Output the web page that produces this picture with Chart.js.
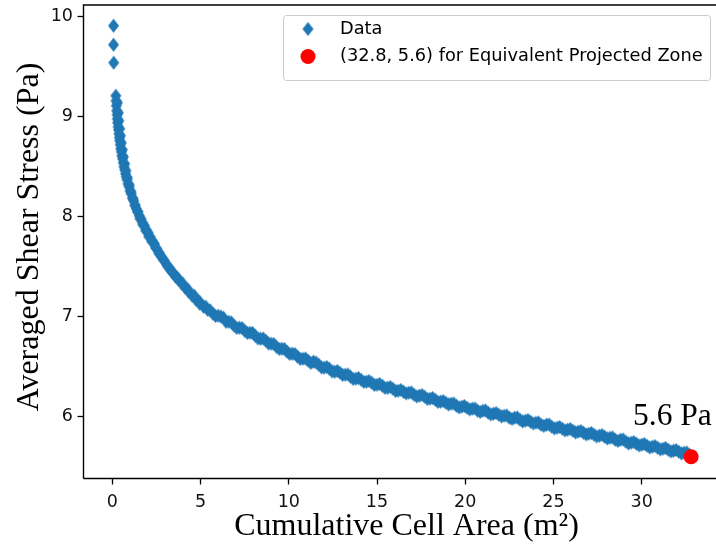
<!DOCTYPE html>
<html><head><meta charset="utf-8">
<script src="https://cdn.jsdelivr.net/npm/chart.js@4/dist/chart.umd.min.js"></script>
<style>html,body{margin:0;padding:0;background:#fff;overflow:hidden}#wrap{width:716px;height:550px;position:relative}</style>
</head><body><div id="wrap"><canvas id="c"></canvas></div>
<script>
// ---- data ----
const areaX = [0.07,0.07,0.08,
0.20,0.21,0.23,0.25,0.27,0.28,0.30,0.33,0.35,0.37,0.40,0.42,0.45,0.48,0.51,0.54,0.58,0.62,0.66,0.70,0.75,0.79,0.84,0.89,0.95,1.01,1.07,1.14,1.21,1.28,1.36,1.45,1.53,1.62,1.72,1.82,1.92,2.03,2.14,2.26,2.39,
2.52,2.65,2.79,2.94,3.09,3.25,3.41,3.58,3.76,3.94,4.13,4.33,4.53,4.74,4.95,5.17,
5.40,5.70,6.00,6.30,6.60,6.90,7.20,7.50,7.80,8.10,8.40,8.70,9.00,9.30,9.60,9.90,10.20,10.50,10.80,11.10,11.40,11.70,12.00,12.30,12.60,12.90,13.20,13.50,13.80,14.10,14.40,14.70,15.00,15.30,15.60,15.90,16.20,16.50,16.80,17.10,17.40,17.70,18.00,18.30,18.60,18.90,19.20,19.50,19.80,20.10,20.40,20.70,21.00,21.30,21.60,21.90,22.20,22.50,22.80,23.10,23.40,23.70,24.00,24.30,24.60,24.90,25.20,25.50,25.80,26.10,26.40,26.70,27.00,27.30,27.60,27.90,28.20,28.50,28.80,29.10,29.40,29.70,30.00,30.30,30.60,30.90,31.20,31.50,31.80,32.10,32.40,32.70,
0.29,0.34,0.37,0.42,0.46,0.51,0.57,0.63,0.70,0.77,0.85,0.95,1.05,1.17,1.29,1.43,1.57,1.73,1.90,2.07,2.25,2.45,2.65,2.90,3.15,3.40,3.70,4.00,4.30,4.65,4.95,5.30,
5.55,5.85,6.15,6.45,6.75,7.05,7.35,7.65,7.95,8.25,8.55,8.85,9.15,9.45,9.75,10.05,10.35,10.65,10.95,11.25,11.55,11.85,12.15,12.45,12.75,13.05,13.35,13.65,13.95,14.25,14.55,14.85,15.15,15.45,15.75,16.05,16.35,16.65,16.95,17.25,17.55,17.85,18.15,18.45,18.75,19.05,19.35,19.65,19.95,20.25,20.55,20.85,21.15,21.45,21.75,22.05,22.35,22.65,22.95,23.25,23.55,23.85,24.15,24.45,24.75,25.05,25.35,25.65,25.95,26.25,26.55,26.85,27.15,27.45,27.75,28.05,28.35,28.65,28.95,29.25,29.55,29.85,30.15,30.45,30.75,31.05,31.35,31.65,31.95,32.25,32.55];
const stressY = [9.91,9.72,9.54,
9.21,9.16,9.11,9.06,9.02,8.98,8.94,8.90,8.87,8.83,8.79,8.76,8.72,8.68,8.65,8.61,8.58,8.54,8.50,8.47,8.43,8.40,8.37,8.33,8.30,8.26,8.23,8.19,8.16,8.12,8.08,8.05,8.01,7.98,7.94,7.91,7.87,7.84,7.80,7.76,7.73,
7.68,7.64,7.60,7.56,7.52,7.48,7.44,7.40,7.37,7.33,7.29,7.25,7.21,7.17,7.13,7.10,
7.07,7.03,7.01,6.99,6.95,6.91,6.89,6.86,6.84,6.81,6.78,6.76,6.73,6.70,6.68,6.65,6.63,6.60,6.58,6.56,6.55,6.52,6.49,6.48,6.45,6.44,6.42,6.40,6.38,6.37,6.35,6.34,6.32,6.31,6.29,6.28,6.26,6.25,6.24,6.22,6.21,6.20,6.18,6.17,6.15,6.14,6.13,6.11,6.10,6.09,6.08,6.06,6.06,6.04,6.03,6.02,6.01,5.99,5.99,5.97,5.96,5.95,5.94,5.92,5.92,5.90,5.89,5.88,5.87,5.86,5.85,5.84,5.83,5.82,5.81,5.80,5.79,5.77,5.77,5.75,5.74,5.73,5.72,5.71,5.70,5.69,5.68,5.67,5.66,5.65,5.64,5.62,
9.14,9.04,8.96,8.88,8.81,8.74,8.67,8.60,8.53,8.46,8.39,8.32,8.25,8.18,8.11,8.05,7.98,7.92,7.86,7.80,7.75,7.69,7.63,7.57,7.50,7.45,7.39,7.33,7.27,7.21,7.15,7.10,
7.062,7.008,7.002,6.948,6.942,6.888,6.887,6.838,6.837,6.783,6.782,6.733,6.727,6.678,6.677,6.628,6.627,6.578,6.582,6.538,6.542,6.493,6.497,6.453,6.457,6.418,6.422,6.378,6.387,6.348,6.357,6.318,6.327,6.288,6.297,6.258,6.267,6.233,6.242,6.203,6.217,6.178,6.187,6.148,6.157,6.123,6.132,6.093,6.107,6.073,6.082,6.048,6.062,6.023,6.037,6.003,6.012,5.978,5.992,5.953,5.967,5.933,5.942,5.908,5.922,5.883,5.897,5.863,5.877,5.843,5.857,5.823,5.837,5.803,5.817,5.783,5.792,5.758,5.772,5.733,5.747,5.713,5.727,5.693,5.707,5.673,5.687,5.653,5.667,5.633,5.642];
const markX = [32.8];
const markY = [5.6];
const xTicks = [0,5,10,15,20,25,30];
const yTicks = [6,7,8,9,10];
const seriesLabels = ['Data','(32.8, 5.6) for Equivalent Projected Zone'];
const xTitle = 'Cumulative Cell Area (m\u00B2)';
const yTitle = 'Averaged Shear Stress (Pa)';
const noteText = '5.6 Pa';
const noteAt = [31.74, 5.917];

// ---- styling ----
const BLUE = '#1f77b4', RED = '#ff0000';
function makeDiamond(w,h,color){
  const c=document.createElement('canvas');c.width=w+2;c.height=h+2;
  const g=c.getContext('2d');g.fillStyle=color;g.beginPath();
  g.moveTo((w+2)/2,1);g.lineTo(w+1,(h+2)/2);g.lineTo((w+2)/2,h+1);g.lineTo(1,(h+2)/2);g.closePath();g.fill();
  return c;
}
const diamond = makeDiamond(11,14,BLUE);

const bg = {id:'bg',beforeDraw(ch){const c=ch.ctx;c.save();c.fillStyle='#fff';c.fillRect(0,0,ch.width,ch.height);c.restore();}};
const deco = {id:'deco',afterDraw(ch){
  const c=ch.ctx, a=ch.chartArea, xs=ch.scales.x, ys=ch.scales.y;
  c.save();
  // frame (right spine falls outside the picture, as in the reference)
  c.strokeStyle='#000';c.lineWidth=1.4;c.beginPath();
  c.moveTo(a.left,a.bottom);c.lineTo(a.left,a.top);c.lineTo(a.right+5,a.top);
  c.moveTo(a.left,a.bottom);c.lineTo(a.right+5,a.bottom);c.stroke();
  // axis titles
  c.fillStyle='#000';c.font='32px "Liberation Serif"';c.textAlign='center';c.textBaseline='middle';
  c.fillText(xTitle, 406.5, 527);
  c.save();c.translate(30,237);c.rotate(-Math.PI/2);c.fillText(yTitle,0,0);c.restore();
  // annotation
  c.font='31.5px "Liberation Serif"';c.textBaseline='alphabetic';
  c.fillText(noteText, xs.getPixelForValue(noteAt[0]), ys.getPixelForValue(noteAt[1]));
  // legend
  const L=283,T=15,W=427,H=65;
  c.fillStyle='rgba(255,255,255,0.8)';c.strokeStyle='#cccccc';c.lineWidth=1;
  c.beginPath();c.roundRect(L+0.5,T+0.5,W,H,3);c.fill();c.stroke();
  c.drawImage(diamond,308-diamond.width/2,29-diamond.height/2);
  c.fillStyle=RED;c.beginPath();c.arc(308,56.5,7.5,0,Math.PI*2);c.fill();
  c.fillStyle='#000';c.font='17.8px "DejaVu Sans"';c.textAlign='left';c.textBaseline='middle';
  c.fillText(seriesLabels[0],340,29);
  c.fillText(seriesLabels[1],340,56.5);
  c.restore();
}};

function zeroPad(s){s.paddingLeft=0;s.paddingRight=0;s.paddingTop=0;s.paddingBottom=0;}

new Chart(document.getElementById('c'),{
  type:'scatter',
  data:{datasets:[
    {label:seriesLabels[1],data:markX.map((x,i)=>({x,y:markY[i]})),pointStyle:'circle',pointRadius:7.5,backgroundColor:RED,borderWidth:0,order:0},
    {label:seriesLabels[0],data:areaX.map((x,i)=>({x,y:stressY[i]})),pointStyle:diamond,pointRadius:7,backgroundColor:BLUE,borderWidth:0,order:1}
  ]},
  options:{
    responsive:true,maintainAspectRatio:false,animation:false,events:[],
    layout:{autoPadding:false,padding:{top:5,left:0,right:0,bottom:0}},
    plugins:{legend:{display:false},tooltip:{enabled:false}},
    scales:{
      x:{type:'linear',min:-1.632,max:34.21,
        afterBuildTicks:s=>{s.ticks=xTicks.map(v=>({value:v}));},
        afterFit:s=>{s.height=71.5;zeroPad(s);},
        grid:{drawOnChartArea:false,drawTicks:true,tickLength:6,tickColor:'#000',tickWidth:1.3},
        border:{display:false},
        ticks:{color:'#111',font:{family:'DejaVu Sans',size:17.5},padding:7,maxRotation:0},
        title:{display:false,text:xTitle}
      },
      y:{type:'linear',min:5.382,max:10.117,
        afterBuildTicks:s=>{s.ticks=yTicks.map(v=>({value:v}));},
        afterFit:s=>{s.width=83.5;zeroPad(s);},
        grid:{drawOnChartArea:false,drawTicks:true,tickLength:6,tickColor:'#000',tickWidth:1.3},
        border:{display:false},
        ticks:{color:'#111',font:{family:'DejaVu Sans',size:17.5},padding:4.5},
        title:{display:false,text:yTitle}
      }
    }
  },
  plugins:[bg,deco]
});
</script></body></html>
